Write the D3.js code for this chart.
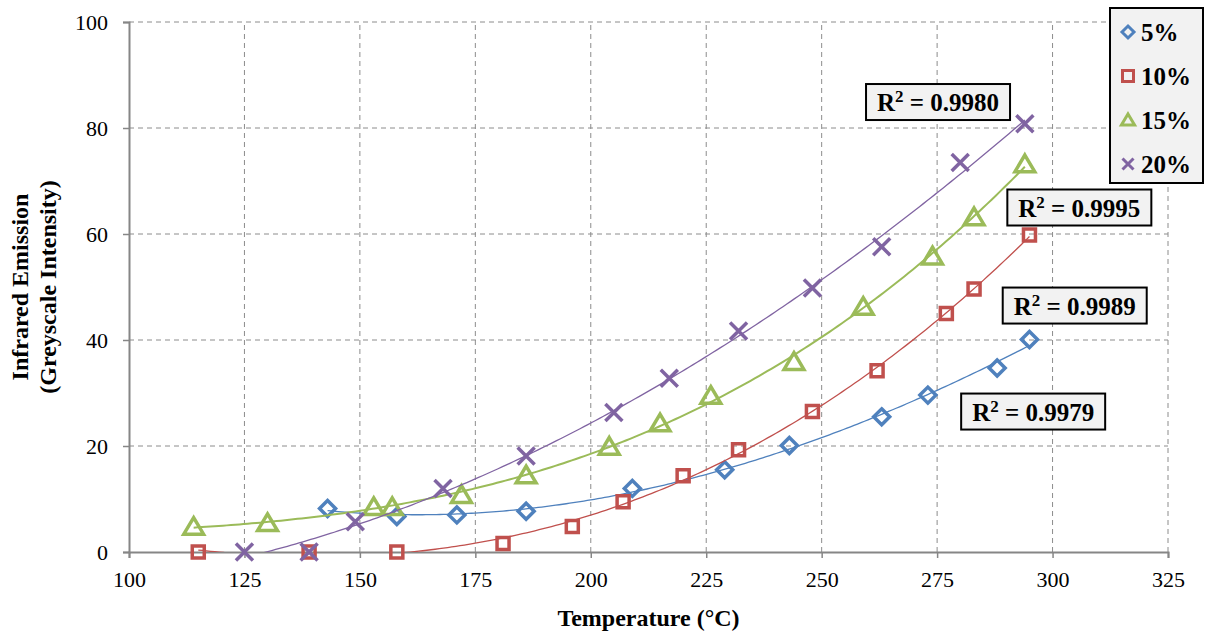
<!DOCTYPE html>
<html lang="en">
<head>
    <meta charset="UTF-8">
    <title>Infrared emission vs temperature</title>
    <script src="https://d3js.org/d3.v7.min.js"></script>
    <style>
        body { margin: 0; background: #fff; }
        svg { display: block; }
        .tick-label { font-family: "Liberation Serif", serif; font-size: 22px; fill: #000; }
        .axis-title { font-family: "Liberation Serif", serif; font-weight: bold; font-size: 24px; fill: #000; }
        .box-text { font-family: "Liberation Serif", serif; font-weight: bold; font-size: 25px; fill: #000; }
    </style>
</head>
<body>
<div id="chart"></div>
<script>
    // --- data ---
    var seriesNames = ["5%", "10%", "15%", "20%"];

    var temp5  = [143, 158, 171, 186, 209, 229, 243, 263, 273, 288, 295];
    var ir5    = [8.2, 6.7, 7.0, 7.7, 12.0, 15.5, 20.1, 25.5, 29.6, 34.7, 40.1];

    var temp10 = [115, 139, 158, 181, 196, 207, 220, 232, 248, 262, 277, 283, 295];
    var ir10   = [0, 0, 0, 1.6, 4.8, 9.5, 14.4, 19.3, 26.5, 34.2, 45.0, 49.6, 59.8];

    var temp15 = [114, 130, 153, 157, 172, 186, 204, 215, 226, 244, 259, 274, 283, 294];
    var ir15   = [4.8, 5.5, 8.5, 8.5, 10.8, 14.5, 19.9, 24.3, 29.5, 35.9, 46.3, 55.8, 63.2, 73.2];

    var temp20 = [125, 139, 149, 168, 186, 205, 217, 232, 248, 263, 280, 294];
    var ir20   = [0, 0, 5.7, 12.0, 18.1, 26.3, 32.8, 41.7, 49.8, 57.6, 73.5, 80.8];

    var rSquared = ["0.9979", "0.9989", "0.9995", "0.9980"];
    // where each R² box sits, in data units
    var labelTemp = [295.8, 304.8, 305.8, 275.2];
    var labelIr   = [26.5, 46.5, 65.0, 84.9];

    var xTicks = [100, 125, 150, 175, 200, 225, 250, 275, 300, 325];
    var yTicks = [0, 20, 40, 60, 80, 100];

    var colors = ["#4F81BD", "#C0504D", "#9BBB59", "#8064A2"];
    var shapes = ["diamond", "square", "triangle", "cross"];

    var width = 1208, height = 635;
    var margin = { top: 22, right: 40, bottom: 83, left: 129 };

    var x = d3.scaleLinear().domain([100, 325]).range([margin.left, width - margin.right]);
    var y = d3.scaleLinear().domain([0, 100]).range([height - margin.bottom, margin.top]);

    var svg = d3.select("#chart").append("svg")
        .attr("width", width)
        .attr("height", height);

    svg.append("defs").append("clipPath").attr("id", "plot-clip")
        .append("rect")
        .attr("x", margin.left).attr("y", margin.top)
        .attr("width", x(325) - x(100)).attr("height", y(0) - y(100));

    // grid
    svg.append("g").selectAll("line")
        .data(xTicks.slice(1))
        .enter().append("line")
        .attr("x1", d => x(d)).attr("x2", d => x(d))
        .attr("y1", y(0)).attr("y2", y(100))
        .attr("stroke", "#8c8c8c").attr("stroke-width", 1).attr("stroke-dasharray", "5,4");

    svg.append("g").selectAll("line")
        .data(yTicks.slice(1))
        .enter().append("line")
        .attr("x1", x(100)).attr("x2", x(325))
        .attr("y1", d => y(d)).attr("y2", d => y(d))
        .attr("stroke", "#8c8c8c").attr("stroke-width", 1).attr("stroke-dasharray", "5,4");

    // axes
    var xAxis = svg.append("g")
        .attr("transform", "translate(0," + y(0) + ")")
        .call(d3.axisBottom(x).tickValues(xTicks).tickSize(6).tickPadding(13));
    var yAxis = svg.append("g")
        .attr("transform", "translate(" + x(100) + ",0)")
        .call(d3.axisLeft(y).tickValues(yTicks).tickSize(6).tickPadding(15));

    [xAxis, yAxis].forEach(function(ax) {
        ax.attr("font-size", null).attr("font-family", null);
        ax.select(".domain").attr("stroke", "#868686").attr("stroke-width", 2);
        ax.selectAll(".tick line").attr("stroke", "#868686").attr("stroke-width", 1.5);
        ax.selectAll(".tick text").attr("class", "tick-label");
    });
    yAxis.selectAll(".tick text").attr("dy", "0.34em");

    // axis titles
    svg.append("text")
        .attr("class", "axis-title")
        .attr("x", (x(100) + x(325)) / 2)
        .attr("y", 626)
        .attr("text-anchor", "middle")
        .text("Temperature (°C)");

    var yTitle = svg.append("text")
        .attr("class", "axis-title")
        .attr("text-anchor", "middle")
        .attr("transform", "translate(0," + ((y(0) + y(100)) / 2) + ") rotate(-90)");
    yTitle.append("tspan").attr("x", 0).attr("y", 28).text("Infrared Emission");
    yTitle.append("tspan").attr("x", 0).attr("y", 56).text("(Greyscale Intensity)");

    // least squares polynomial trendline
    function polyfit(xs, ys, deg) {
        var n = deg + 1;
        var A = [], b = [];
        for (var i = 0; i < n; i++) {
            A.push(new Array(n).fill(0));
            b.push(0);
        }
        xs.forEach(function(xv, k) {
            for (var i = 0; i < n; i++) {
                for (var j = 0; j < n; j++) A[i][j] += Math.pow(xv, i + j);
                b[i] += ys[k] * Math.pow(xv, i);
            }
        });
        for (var c = 0; c < n; c++) {
            var p = c;
            for (var r = c + 1; r < n; r++) if (Math.abs(A[r][c]) > Math.abs(A[p][c])) p = r;
            var t = A[c]; A[c] = A[p]; A[p] = t;
            var tb = b[c]; b[c] = b[p]; b[p] = tb;
            for (var r2 = c + 1; r2 < n; r2++) {
                var f = A[r2][c] / A[c][c];
                for (var j2 = c; j2 < n; j2++) A[r2][j2] -= f * A[c][j2];
                b[r2] -= f * b[c];
            }
        }
        var coef = new Array(n).fill(0);
        for (var i2 = n - 1; i2 >= 0; i2--) {
            var s = b[i2];
            for (var j3 = i2 + 1; j3 < n; j3++) s -= A[i2][j3] * coef[j3];
            coef[i2] = s / A[i2][i2];
        }
        return coef;
    }

    function markerPath(shape, s) {
        var h = s / 2;
        if (shape === "diamond") return "M0," + (-h) + "L" + h + ",0L0," + h + "L" + (-h) + ",0Z";
        if (shape === "square") return "M" + (-h) + "," + (-h) + "H" + h + "V" + h + "H" + (-h) + "Z";
        if (shape === "triangle") return "M0," + (-h) + "L" + (h * 1.1) + "," + (h * 0.85) + "H" + (-h * 1.1) + "Z";
        return "M" + (-h) + "," + (-h) + "L" + h + "," + h + "M" + h + "," + (-h) + "L" + (-h) + "," + h;
    }

    var temps = [temp5, temp10, temp15, temp20];
    var irs = [ir5, ir10, ir15, ir20];
    var markerSize = [16, 12, 18, 17];
    var trendWidth = [1.3, 1.3, 2, 1.3];
    var fitOrder = 3;

    var line = d3.line().x(d => x(d[0])).y(d => y(d[1]));

    temps.forEach(function(ts, si) {
        var pts = ts.map((t, i) => [t, irs[si][i]]);
        var mean = d3.mean(ts);
        var coef = polyfit(ts.map(t => t - mean), irs[si], fitOrder);
        var x0 = d3.min(ts), x1 = d3.max(ts);
        var curve = d3.range(0, 201).map(function(k) {
            var t = x0 + (x1 - x0) * k / 200, u = t - mean;
            var v = 0;
            coef.forEach(function(c, p) { v += c * Math.pow(u, p); });
            return [t, v];
        });

        svg.append("g").selectAll("path")
            .data(pts)
            .enter().append("path")
            .attr("transform", d => "translate(" + x(d[0]) + "," + y(d[1]) + ")")
            .attr("d", markerPath(shapes[si], markerSize[si]))
            .attr("fill", "none")
            .attr("stroke", colors[si])
            .attr("stroke-width", 3.5);

        svg.append("path")
            .datum(curve)
            .attr("clip-path", "url(#plot-clip)")
            .attr("fill", "none")
            .attr("stroke", colors[si])
            .attr("stroke-width", trendWidth[si])
            .attr("d", line);
    });

    // R² labels
    var boxW = 144, boxH = 36;
    rSquared.forEach(function(r, i) {
        var cx = x(labelTemp[i]), cy = y(labelIr[i]);
        var g = svg.append("g").attr("transform", "translate(" + cx + "," + cy + ")");
        g.append("rect")
            .attr("x", -boxW / 2).attr("y", -boxH / 2)
            .attr("width", boxW).attr("height", boxH)
            .attr("fill", "#f2f2f2").attr("stroke", "#000").attr("stroke-width", 2);
        var t = g.append("text").attr("class", "box-text").attr("text-anchor", "middle").attr("y", 9);
        t.append("tspan").text("R");
        t.append("tspan").attr("dy", -9).attr("font-size", "17px").text("2");
        t.append("tspan").attr("dy", 9).text(" = " + r);
    });

    // legend
    var legend = svg.append("g").attr("transform", "translate(1110,8)");
    legend.append("rect")
        .attr("width", 93).attr("height", 175)
        .attr("fill", "#f2f2f2").attr("stroke", "#000").attr("stroke-width", 2);
    var items = legend.selectAll(".item")
        .data(seriesNames)
        .enter().append("g")
        .attr("class", "item")
        .attr("transform", (d, i) => "translate(18," + (24 + i * 44) + ")");
    items.append("path")
        .attr("d", (d, i) => markerPath(shapes[i], [12, 11, 12, 11][i]))
        .attr("fill", "none")
        .attr("stroke", (d, i) => colors[i])
        .attr("stroke-width", 3);
    items.append("text")
        .attr("class", "box-text")
        .attr("x", 13).attr("y", 9)
        .text(d => d);
</script>
</body>
</html>
